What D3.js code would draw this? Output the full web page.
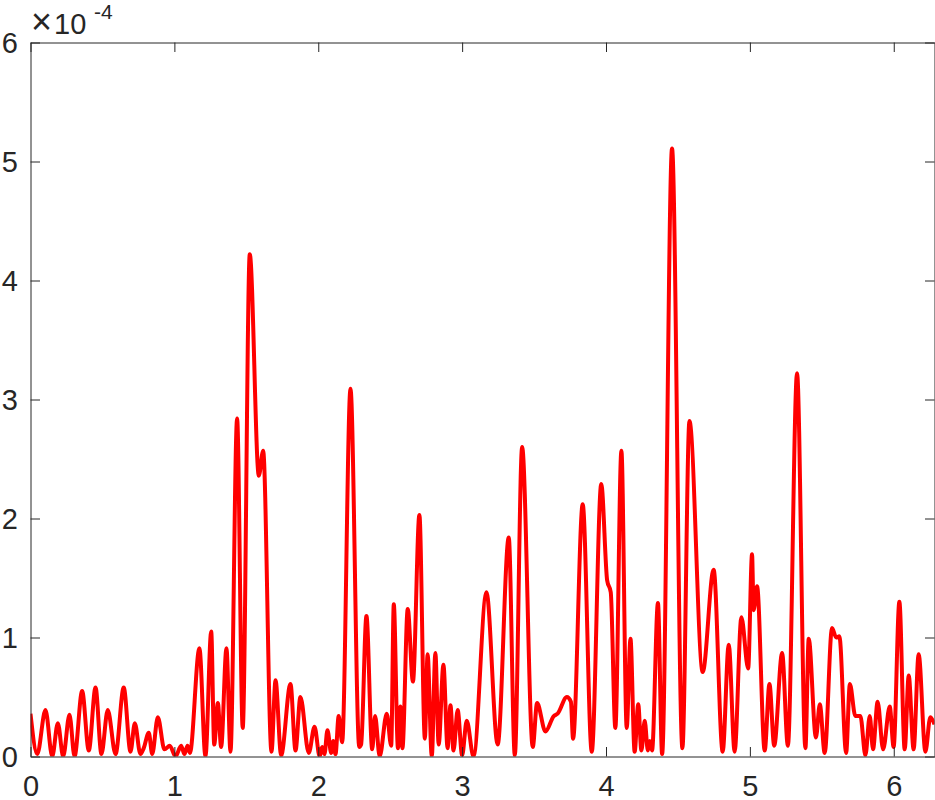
<!DOCTYPE html>
<html>
<head>
<meta charset="utf-8">
<script src="https://cdn.jsdelivr.net/npm/d3@7"></script>
<style>
  html, body { margin: 0; padding: 0; background: #fff; }
  svg { display: block; }
  text { font-family: "Liberation Sans", Arial, Helvetica, sans-serif; fill: #262626; }
</style>
</head>
<body>
<svg id="chart" width="935" height="800"></svg>
<script>
// ---- data (y in units of 1e-4) ----
const xValues = [
  0, 0.047, 0.104, 0.151, 0.190, 0.227, 0.271, 0.306, 0.359, 0.405,
  0.452, 0.493, 0.537, 0.591, 0.648, 0.695, 0.725, 0.764, 0.787, 0.822,
  0.846, 0.885, 0.931, 0.968, 1.008, 1.047, 1.070, 1.091, 1.108, 1.174,
  1.216, 1.256, 1.277, 1.302, 1.325, 1.362, 1.390, 1.436, 1.475, 1.524,
  1.587, 1.617, 1.675, 1.703, 1.742, 1.807, 1.842, 1.876, 1.934, 1.974,
  2.010, 2.027, 2.043, 2.064, 2.090, 2.104, 2.120, 2.142, 2.166, 2.224,
  2.285, 2.298, 2.335, 2.375, 2.395, 2.427, 2.476, 2.507, 2.525, 2.554,
  2.571, 2.585, 2.622, 2.658, 2.703, 2.741, 2.760, 2.789, 2.814, 2.837,
  2.870, 2.899, 2.919, 2.940, 2.969, 3.000, 3.032, 3.079, 3.169, 3.247,
  3.324, 3.366, 3.417, 3.491, 3.521, 3.579, 3.637, 3.664, 3.728, 3.756,
  3.771, 3.838, 3.901, 3.967, 4.008, 4.033, 4.065, 4.107, 4.144, 4.170,
  4.199, 4.224, 4.246, 4.269, 4.291, 4.304, 4.320, 4.361, 4.390, 4.459,
  4.531, 4.580, 4.672, 4.748, 4.811, 4.853, 4.894, 4.941, 4.988, 5.015,
  5.026, 5.050, 5.103, 5.136, 5.169, 5.224, 5.264, 5.328, 5.386, 5.409,
  5.459, 5.486, 5.520, 5.571, 5.600, 5.622, 5.669, 5.695, 5.733, 5.768,
  5.803, 5.833, 5.856, 5.888, 5.926, 5.972, 5.999, 6.039, 6.076, 6.104,
  6.138, 6.173, 6.220, 6.254, 6.283
];
const yValues = [
  0.36, 0.02, 0.39, 0.00, 0.28, 0.00, 0.35, 0.00, 0.55, 0.05,
  0.58, 0.02, 0.39, 0.02, 0.58, 0.04, 0.28, 0.02, 0.07, 0.20,
  0.02, 0.33, 0.06, 0.09, 0.00, 0.09, 0.02, 0.09, 0.03, 0.91,
  0.00, 1.05, 0.10, 0.45, 0.08, 0.91, 0.04, 2.84, 0.24, 4.22,
  2.36, 2.57, 0.04, 0.64, 0.01, 0.61, 0.05, 0.50, 0.03, 0.25,
  0.00, 0.08, 0.02, 0.22, 0.03, 0.13, 0.02, 0.34, 0.12, 3.09,
  0.08, 0.10, 1.18, 0.06, 0.34, 0.00, 0.36, 0.09, 1.28, 0.07,
  0.42, 0.07, 1.24, 0.63, 2.03, 0.15, 0.86, 0.00, 0.87, 0.10,
  0.77, 0.07, 0.43, 0.05, 0.39, 0.01, 0.30, 0.00, 1.38, 0.10,
  1.84, 0.01, 2.60, 0.08, 0.45, 0.21, 0.34, 0.36, 0.50, 0.46,
  0.15, 2.12, 0.04, 2.29, 1.48, 1.38, 0.24, 2.57, 0.24, 0.99,
  0.04, 0.44, 0.05, 0.30, 0.05, 0.13, 0.05, 1.29, 0.02, 5.11,
  0.07, 2.82, 0.71, 1.57, 0.04, 0.94, 0.04, 1.17, 0.74, 1.70,
  1.23, 1.43, 0.05, 0.61, 0.09, 0.87, 0.09, 3.22, 0.07, 0.99,
  0.16, 0.44, 0.03, 1.08, 1.00, 1.01, 0.03, 0.61, 0.34, 0.34,
  0.01, 0.34, 0.06, 0.46, 0.06, 0.42, 0.08, 1.30, 0.06, 0.68,
  0.06, 0.86, 0.04, 0.33, 0.27
];
const xTicks = [0, 1, 2, 3, 4, 5, 6];
const yTicks = [0, 1, 2, 3, 4, 5, 6];
const xDomain = [0, 2 * Math.PI];
const yDomain = [0, 6];
const exponentTimes = "\u00d7";
const exponentBase = "10";
const exponentText = "-4";

// ---- layout ----
const svg = d3.select("#chart");
const mLeft = 30.5, mRight = 934.5, mTop = 42.5, mBottom = 756.5;
const axisColor = "#262626";
const tickLen = 9.5;
const fontSize = 29;

const x = d3.scaleLinear().domain(xDomain).range([mLeft, mRight]);
const y = d3.scaleLinear().domain(yDomain).range([mBottom, mTop]);

const points = xValues.map((v, i) => [v, yValues[i]]);

svg.append("defs").append("clipPath").attr("id", "plotclip")
  .append("rect").attr("x", mLeft).attr("y", mTop - 3)
  .attr("width", mRight - mLeft).attr("height", mBottom - mTop + 3);

const line = d3.line()
  .x(d => x(d[0]))
  .y(d => y(d[1]))
  .curve(d3.curveMonotoneX);

svg.append("path")
  .datum(points)
  .attr("clip-path", "url(#plotclip)")
  .attr("fill", "none")
  .attr("stroke", "#ff0000")
  .attr("stroke-width", 4)
  .attr("stroke-linejoin", "round")
  .attr("d", line);

// axes (box with inward ticks on all sides)
const bottomAxis = d3.axisBottom(x).tickValues(xTicks).tickSizeInner(-tickLen).tickSizeOuter(0).tickFormat(d3.format("d"));
const topAxis = d3.axisTop(x).tickValues(xTicks).tickSizeInner(-tickLen).tickSizeOuter(0).tickFormat("");
const leftAxis = d3.axisLeft(y).tickValues(yTicks).tickSizeInner(-tickLen).tickSizeOuter(0).tickFormat(d3.format("d"));
const rightAxis = d3.axisRight(y).tickValues(yTicks).tickSizeInner(-tickLen).tickSizeOuter(0).tickFormat("");

function styleAxis(g) {
  g.selectAll("path.domain").attr("stroke", axisColor).attr("stroke-width", 1);
  g.selectAll(".tick line").attr("stroke", axisColor).attr("stroke-width", 1);
  g.selectAll(".tick text")
    .attr("font-family", "'Liberation Sans', Arial, Helvetica, sans-serif")
    .attr("font-size", fontSize).attr("fill", axisColor);
}

svg.append("g").attr("transform", `translate(0,${mBottom})`).call(bottomAxis).call(styleAxis)
  .selectAll(".tick text").attr("dy", "0.71em").attr("y", 19);
svg.append("g").attr("transform", `translate(0,${mTop})`).call(topAxis).call(styleAxis);
svg.append("g").attr("transform", `translate(${mLeft},0)`).call(leftAxis).call(styleAxis)
  .selectAll(".tick text").attr("x", -12.5).attr("dy", "0.36em");
svg.append("g").attr("transform", `translate(${mRight},0)`).call(rightAxis).call(styleAxis);

// exponent label
const expLabel = svg.append("text").attr("y", 33.5).attr("font-size", fontSize);
expLabel.append("tspan").attr("x", 31).attr("font-size", 36).attr("y", 34).text(exponentTimes);
expLabel.append("tspan").attr("x", 54).attr("y", 33.5).text(exponentBase);
expLabel.append("tspan").attr("x", 94).attr("y", 18.5).attr("font-size", 21).text(exponentText);
</script>
</body>
</html>
